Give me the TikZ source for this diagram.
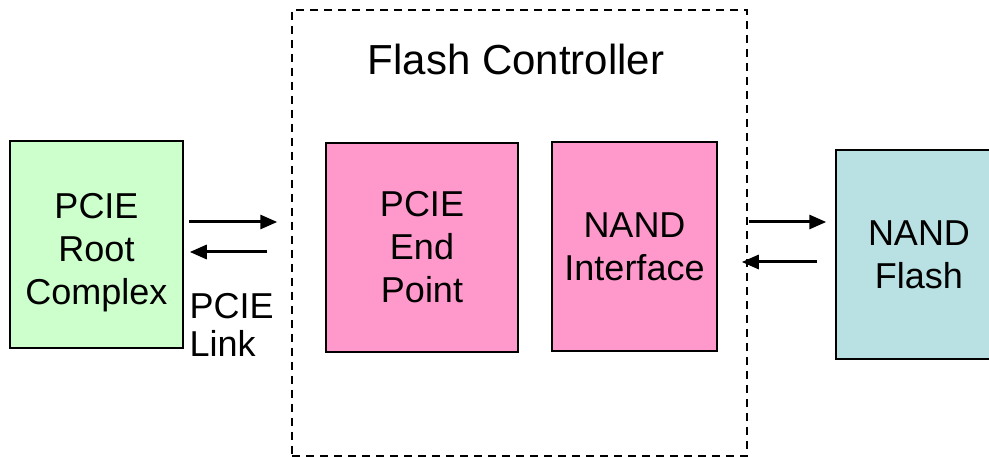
\documentclass[tikz,border=0pt]{standalone}
\usepackage{fontspec}
\setmainfont{Liberation Sans}
\usetikzlibrary{arrows.meta}
\definecolor{rootgreen}{RGB}{204,255,204}
\definecolor{blockpink}{RGB}{255,153,204}
\definecolor{flashblue}{RGB}{185,224,227}

\begin{document}
\begin{tikzpicture}[x=1pt, y=-1pt, font=\fontsize{36}{43}\selectfont,
  >={Triangle[length=17pt,width=14pt]},
  block/.style={draw, line width=1.5pt, inner sep=0pt, align=center},
  link/.style={->, line width=3pt}]
  \useasboundingbox (0,0) rectangle (989,457);

  % Controller frame
  \node[draw, line width=1.5pt, dash pattern=on 8pt off 6pt,
        minimum width=455pt, minimum height=446pt] (fc) at (519.5,233) {};
  \node[anchor=base, font=\fontsize{42}{48}\selectfont] (title) at (516,75) {Flash Controller};

  % Blocks
  \node[block, fill=rootgreen, minimum width=173pt, minimum height=207pt, text height=128pt] (rc) at (96.5,244.5) {PCIE\\Root\\Complex};
  \node[block, fill=blockpink, minimum width=192pt, minimum height=209pt] (ep) at (422,247.5) {PCIE\\End\\Point};
  \node[block, fill=blockpink, minimum width=165pt, minimum height=209pt] (ni) at (634.5,246.5) {NAND\\Interface};
  \node[block, fill=flashblue, minimum width=166pt, minimum height=209pt] (nf) at (919,254.5) {NAND\\Flash};

  % Links
  \draw[link] ([shift={(5,-22.5)}]rc.east) -- ([shift={(-14,-11)}]fc.west);
  \draw[link] ([shift={(-24,19)}]fc.west) -- ([shift={(6,7.5)}]rc.east);
  \node[anchor=base west, align=left, font=\fontsize{36}{39}\selectfont] (pl) at (186,357) {PCIE\\Link};

  \draw[link] ([shift={(1,-11)}]fc.east) -- ([shift={(-9,-32.5)}]nf.west);
  \draw[link] ([shift={(-18,7.5)}]nf.west) -- ([shift={(-6,29)}]fc.east);
\end{tikzpicture}
\end{document}
